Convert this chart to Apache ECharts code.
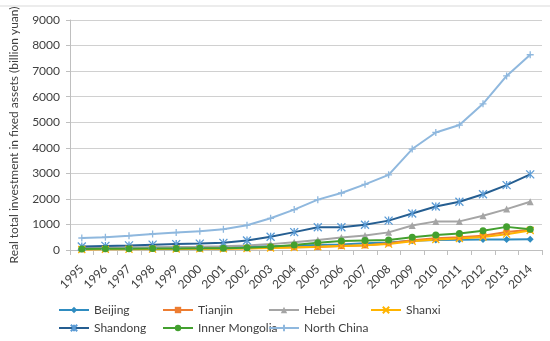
<!DOCTYPE html>
<html><head><meta charset="utf-8">
<script src="https://cdn.jsdelivr.net/npm/echarts@6/dist/echarts.min.js"></script>
<style>html,body{margin:0;padding:0;background:#fff}#c{width:550px;height:341px}</style>
</head><body><div id="c"></div>
<script>
var years = ['1995','1996','1997','1998','1999','2000','2001','2002','2003','2004','2005','2006','2007','2008','2009','2010','2011','2012','2013','2014'];
var beijing = [60, 70, 80, 90, 100, 110, 120, 130, 150, 170, 200, 220, 260, 290, 360, 390, 400, 410, 415, 420];
var tianjin = [30, 35, 40, 45, 50, 55, 60, 70, 90, 110, 120, 155, 180, 260, 380, 460, 500, 560, 700, 790];
var hebei = [80, 90, 100, 110, 120, 130, 150, 180, 230, 300, 390, 490, 570, 690, 960, 1120, 1120, 1340, 1600, 1890];
var shanxi = [20, 25, 30, 35, 40, 45, 50, 60, 80, 100, 130, 160, 190, 230, 340, 410, 450, 510, 620, 760];
var shandong = [140, 160, 180, 210, 230, 250, 280, 370, 520, 700, 890, 890, 990, 1150, 1430, 1700, 1890, 2180, 2540, 2960];
var innerMongolia = [40, 45, 50, 55, 60, 65, 70, 90, 130, 195, 285, 350, 370, 390, 500, 590, 645, 755, 905, 815];
var northChina = [470, 500, 560, 630, 680, 730, 810, 970, 1240, 1580, 1970, 2230, 2570, 2940, 3950, 4600, 4890, 5720, 6810, 7640];
var yTicks = [0, 1000, 2000, 3000, 4000, 5000, 6000, 7000, 8000, 9000];

var FONT = 'Lato';
var defs = [
  {name:'Beijing', data:beijing, color:'#2f8cc0', symbol:'diamond', size:7, stroke:false},
  {name:'Tianjin', data:tianjin, color:'#ed7d31', symbol:'rect', size:6, stroke:false},
  {name:'Hebei', data:hebei, color:'#a5a5a5', symbol:'triangle', size:7, stroke:false},
  {name:'Shanxi', data:shanxi, color:'#ffb400', symbol:'path://M0,0L10,10M10,0L0,10', size:7, stroke:true},
  {name:'Shandong', data:shandong, color:'#255e91', symbol:'path://M0,0L10,10M10,0L0,10M5,0L5,10', size:8, stroke:true, mcolor:'#5b9bd5'},
  {name:'Inner Mongolia', data:innerMongolia, color:'#43a02f', symbol:'circle', size:7, stroke:false},
  {name:'North China', data:northChina, color:'#8fb8de', symbol:'path://M5,0L5,10M0,5L10,5', size:7, stroke:true}
];
var series = defs.map(function(d){
  var mc = d.mcolor || d.color;
  return {
    name:d.name, type:'line', data:d.data, symbol:d.symbol, symbolSize:d.size,
    lineStyle:{color:d.color, width:2},
    itemStyle: d.stroke ? {color:'rgba(0,0,0,0)', borderColor:mc, borderWidth:1.3} : {color:mc, borderWidth:0},
    emphasis:{disabled:true}
  };
});
var legendPos = [[58,304],[162,304],[268,304],[370,304],[58,322],[162,322],[268,322]];
var legends = defs.map(function(d,i){
  return {data:[d.name], left:legendPos[i][0], top:legendPos[i][1], itemWidth:30, itemHeight:8, itemGap:4, padding:0,
    textStyle:{fontFamily:FONT, fontSize:12, color:'#404040'}};
});
var chart = echarts.init(document.getElementById('c'), null, {renderer:'canvas'});
chart.setOption({
  animation:false,
  backgroundColor:'#fff',
  grid:{left:68, right:8, top:20, bottom:91},
  legend:legends,
  graphic:[{type:'line', shape:{x1:0,y1:6,x2:550,y2:6}, style:{stroke:'#d9d9d9', lineWidth:1}}],
  xAxis:{type:'category', data:years, boundaryGap:true,
    axisLine:{lineStyle:{color:'#bfbfbf'}},
    axisTick:{show:true, alignWithLabel:false, length:5, lineStyle:{color:'#bfbfbf'}},
    axisLabel:{rotate:45, interval:0, fontFamily:FONT, fontSize:12, color:'#404040', margin:17}},
  yAxis:{type:'value', min:yTicks[0], max:yTicks[yTicks.length-1], interval:1000,
    name:'Real total investment in fixed assets (billion yuan)', nameLocation:'middle', nameGap:50,
    nameTextStyle:{fontFamily:FONT, fontSize:12, color:'#404040'},
    axisLine:{show:true, lineStyle:{color:'#bfbfbf'}},
    axisTick:{show:true, length:4, lineStyle:{color:'#bfbfbf'}},
    splitLine:{lineStyle:{color:'#d0d0d0', width:1}},
    axisLabel:{fontFamily:FONT, fontSize:12, color:'#404040', margin:10, formatter:function(v){return String(v);}}},
  series:series
});
</script></body></html>
